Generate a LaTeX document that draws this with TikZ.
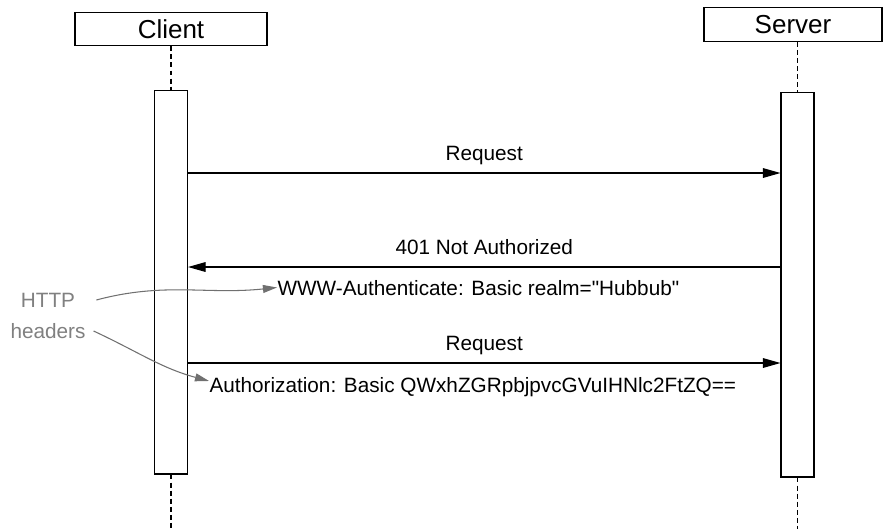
\documentclass[tikz,border=0pt]{standalone}
\usepackage{fontspec}
\setmainfont{Liberation Sans}
\newfontfamily\plainsans{Liberation Sans}
\usetikzlibrary{arrows.meta}
\definecolor{notegray}{RGB}{128,128,128}
\definecolor{curvegray}{RGB}{112,112,112}

\begin{document}
\begin{tikzpicture}[x=0.02cm, y=-0.02cm, line width=0.6pt, >={Triangle[length=10pt,width=5.5pt]},
    actor/.style={draw, inner sep=0pt, minimum height=0.67cm, font=\plainsans\fontsize{14.8}{17}\selectfont},
    bar/.style={draw, fill=white, inner sep=0pt, minimum width=0.66cm},
    lifeline/.style={dash pattern=on 2.8pt off 1.8pt},
    lbl/.style={font=\plainsans\fontsize{11.8}{14}\selectfont, text depth=0pt},
    note/.style={lbl, text=notegray},
    hint/.style={->, >={Triangle[length=8pt,width=4.5pt]}, draw=curvegray}]
    \useasboundingbox (0,0) rectangle (883,529);

    % Nodes
    \node[actor, minimum width=3.84cm] (client) at (171,29) {Client};
    \node[actor, minimum width=3.56cm] (server) at (793,24.5) {Server};
    \node[bar, minimum height=7.68cm] (cbar) at (171,282) {};
    \node[bar, minimum height=7.7cm] (sbar) at (797.5,284.5) {};
    \coordinate (cend) at (171,529);
    \coordinate (send) at (797.5,529);

    % Lifelines
    \draw[lifeline] (client.south) -- (cbar.north);
    \draw[lifeline] (server.south -| sbar.north) -- (sbar.north);
    \draw[lifeline] (cbar.south) -- (cend);
    \draw[lifeline] (sbar.south) -- (send);

    % Arrows
    \coordinate (m1) at (0,173);
    \coordinate (m2) at (0,267);
    \coordinate (m3) at (0,363);
    \draw[->] (cbar.east |- m1) -- node[lbl, above=3.5pt] {Request} (sbar.west |- m1);
    \draw[->] (sbar.west |- m2) -- node[lbl, above=3.5pt] {401 Not Authorized} (cbar.east |- m2);
    \draw[->] (cbar.east |- m3) -- node[lbl, above=3.5pt] {Request} (sbar.west |- m3);

    % Headers
    \node[lbl, anchor=base west, inner sep=0pt] (www) at (277,295) {WWW-Authenticate: Basic realm="Hubbub"};
    \node[lbl, anchor=base west, inner sep=0pt] (auth) at (209,392) {Authorization: Basic QWxhZGRpbjpvcGVuIHNlc2FtZQ==};
    \node[note] (http) at (48,300) {HTTP};
    \node[note] (hdrs) at (48,331) {headers};
    \draw[hint] ([xshift=8.5pt]http.east) to[out=15, in=186] (www.west);
    \draw[hint] ([xshift=1pt]hdrs.east) to[out=-25, in=165] ([yshift=2pt]auth.west);
\end{tikzpicture}
\end{document}
